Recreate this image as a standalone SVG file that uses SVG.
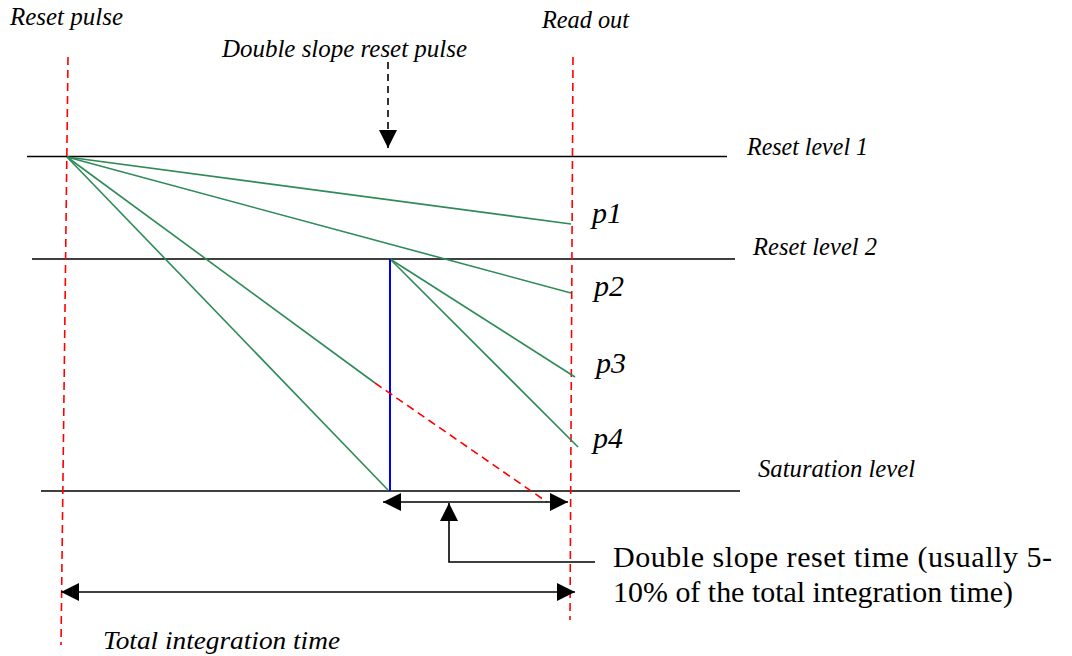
<svg xmlns="http://www.w3.org/2000/svg" width="1072" height="656" viewBox="0 0 1072 656">
<defs>
<marker id="ah" markerUnits="userSpaceOnUse" markerWidth="18" markerHeight="18" refX="18" refY="9" orient="auto-start-reverse"><path d="M0,0 L18,9 L0,18 Z" fill="#000"/></marker>
<style>
.lvl{stroke:#000;stroke-width:1.6;fill:none}
.g{stroke:#2e8b57;stroke-width:1.6;fill:none}
.rd{stroke:#ff0000;stroke-width:1.6;stroke-dasharray:8,5;fill:none}
.ar{stroke:#000;stroke-width:1.6;fill:none}
.it{font-family:"Liberation Serif","Times New Roman",serif;font-style:italic;font-size:25px;fill:#000}
.p{font-family:"Liberation Serif","Times New Roman",serif;font-style:italic;font-size:30px;fill:#000}
.nt{font-family:"Liberation Serif","Times New Roman",serif;font-size:30px;fill:#000}
</style>
</defs>
<rect width="1072" height="656" fill="#fff"/>
<g id="levels">
<line class="lvl" x1="27" y1="156.5" x2="727" y2="156.5"/>
<line class="lvl" x1="32" y1="259" x2="735" y2="259"/>
<line class="lvl" x1="41" y1="491" x2="740" y2="491"/>
</g>
<g id="time-markers">
<line class="rd" x1="68" y1="57" x2="61" y2="645"/>
<line class="rd" x1="573" y1="57" x2="570" y2="620"/>
</g>
<g id="ramps">
<line class="g" x1="67" y1="157" x2="571" y2="224"/>
<line class="g" x1="67" y1="157" x2="571" y2="293"/>
<line class="g" x1="67" y1="157" x2="375" y2="383"/>
<line class="g" x1="67" y1="157" x2="388" y2="490"/>
<line class="g" x1="390" y1="259" x2="575" y2="377"/>
<line class="g" x1="390" y1="259" x2="578" y2="447"/>
<line x1="390" y1="259" x2="390" y2="491" stroke="#0000ff" stroke-width="2"/>
<line class="rd" x1="375" y1="383" x2="547" y2="502"/>
</g>
<g id="connectors">
<line class="ar" x1="388" y1="62" x2="388" y2="148" stroke-dasharray="7,5" marker-end="url(#ah)"/>
<line class="ar" x1="383" y1="502" x2="568" y2="502" marker-start="url(#ah)" marker-end="url(#ah)"/>
<polyline class="ar" points="595,562 449,562 449,503" marker-end="url(#ah)"/>
<line class="ar" x1="61" y1="592" x2="575" y2="592" marker-start="url(#ah)" marker-end="url(#ah)"/>
</g>
<g id="labels">
<text class="it" x="10" y="25" textLength="113" lengthAdjust="spacingAndGlyphs">Reset pulse</text>
<text class="it" x="542" y="28" textLength="87" lengthAdjust="spacingAndGlyphs">Read out</text>
<text class="it" x="222" y="57" textLength="245" lengthAdjust="spacingAndGlyphs">Double slope reset pulse</text>
<text class="it" x="747" y="155" textLength="121" lengthAdjust="spacingAndGlyphs">Reset level 1</text>
<text class="it" x="753" y="255" textLength="124" lengthAdjust="spacingAndGlyphs">Reset level 2</text>
<text class="it" x="758" y="477" textLength="157" lengthAdjust="spacingAndGlyphs">Saturation level</text>
<text class="it" x="103" y="649" textLength="237" lengthAdjust="spacingAndGlyphs">Total integration time</text>
<text class="p" x="592" y="223">p1</text>
<text class="p" x="594" y="296">p2</text>
<text class="p" x="596" y="373">p3</text>
<text class="p" x="593" y="448">p4</text>
<text class="nt" x="613" y="567" textLength="439" lengthAdjust="spacing">Double slope reset time (usually 5-</text>
<text class="nt" x="613" y="602" textLength="400" lengthAdjust="spacingAndGlyphs">10% of the total integration time)</text>
</g>
</svg>
